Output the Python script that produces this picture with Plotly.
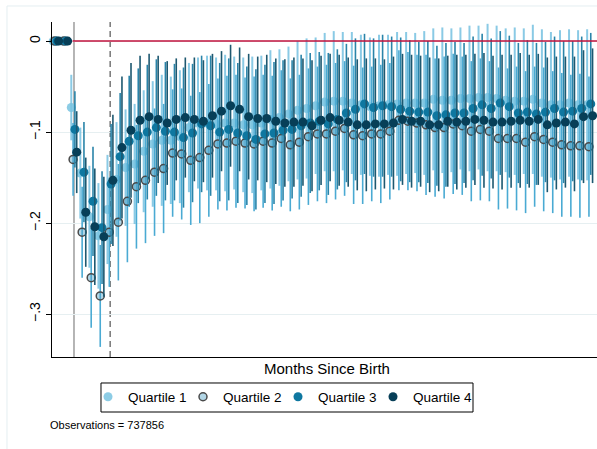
import plotly.graph_objects as go

# ---------------- data ----------------
months = list(range(-2, 58))

q1 = [0, 0,
      -0.073, -0.145, -0.193, -0.214, -0.185, -0.152, -0.139, -0.135, -0.121, -0.113,
      -0.109, -0.109, -0.105, -0.095, -0.090, -0.090, -0.091, -0.090, -0.090, -0.092,
      -0.092, -0.090, -0.086, -0.084, -0.080, -0.076, -0.074, -0.071, -0.067, -0.066,
      -0.066, -0.068, -0.070, -0.072, -0.071, -0.070, -0.069, -0.068, -0.068, -0.068,
      -0.064, -0.065, -0.065, -0.063, -0.063, -0.062, -0.062, -0.063, -0.065, -0.066,
      -0.066, -0.064, -0.068, -0.070, -0.070, -0.068, -0.070, -0.070]

q2 = [0, 0,
      -0.130, -0.210, -0.260, -0.280, -0.210, -0.199, -0.176, -0.160, -0.153, -0.144,
      -0.140, -0.123, -0.124, -0.131, -0.128, -0.120, -0.113, -0.112, -0.110, -0.112,
      -0.113, -0.110, -0.112, -0.107, -0.114, -0.111, -0.105, -0.102, -0.102, -0.099,
      -0.096, -0.103, -0.104, -0.102, -0.102, -0.099, -0.087, -0.088, -0.090, -0.092,
      -0.095, -0.095, -0.091, -0.093, -0.099, -0.097, -0.099, -0.107, -0.107, -0.107,
      -0.111, -0.105, -0.108, -0.111, -0.114, -0.115, -0.115, -0.116]

q3 = [0, 0,
      -0.097, -0.144, -0.176, -0.205, -0.157, -0.127, -0.110, -0.104, -0.100, -0.095,
      -0.099, -0.100, -0.106, -0.101, -0.091, -0.093, -0.100, -0.097, -0.101, -0.104,
      -0.108, -0.102, -0.101, -0.098, -0.097, -0.093, -0.090, -0.088, -0.091, -0.086,
      -0.079, -0.075, -0.069, -0.073, -0.071, -0.072, -0.075, -0.077, -0.078, -0.078,
      -0.082, -0.081, -0.079, -0.079, -0.074, -0.070, -0.074, -0.068, -0.072, -0.079,
      -0.078, -0.080, -0.078, -0.074, -0.078, -0.077, -0.074, -0.069]

q4 = [0, 0,
      -0.122, -0.188, -0.204, -0.215, -0.153, -0.117, -0.098, -0.087, -0.083, -0.086,
      -0.090, -0.086, -0.084, -0.086, -0.088, -0.082, -0.077, -0.071, -0.075, -0.083,
      -0.085, -0.085, -0.088, -0.090, -0.089, -0.089, -0.093, -0.087, -0.084, -0.087,
      -0.089, -0.092, -0.092, -0.091, -0.091, -0.090, -0.086, -0.088, -0.088, -0.092,
      -0.092, -0.088, -0.089, -0.088, -0.086, -0.087, -0.089, -0.089, -0.088, -0.087,
      -0.088, -0.086, -0.092, -0.090, -0.089, -0.091, -0.083, -0.082]

# half-widths of the 95% confidence intervals
ci1 = [0, 0,
       0.036, 0.050, 0.056, 0.058, 0.060, 0.063, 0.064, 0.066, 0.067, 0.069,
       0.072, 0.070, 0.073, 0.071, 0.072, 0.074, 0.073, 0.075, 0.073, 0.074,
       0.075, 0.074, 0.076, 0.075, 0.074, 0.076, 0.077, 0.075, 0.076, 0.077,
       0.076, 0.078, 0.077, 0.076, 0.078, 0.077, 0.079, 0.078, 0.077, 0.079,
       0.078, 0.080, 0.079, 0.078, 0.080, 0.079, 0.081, 0.080, 0.079, 0.081,
       0.080, 0.082, 0.081, 0.080, 0.082, 0.081, 0.082, 0.083]

ci2 = [0, 0,
       0.040, 0.050, 0.055, 0.056, 0.060, 0.064, 0.067, 0.068, 0.069, 0.070,
       0.071, 0.070, 0.072, 0.071, 0.072, 0.073, 0.072, 0.074, 0.073, 0.072,
       0.074, 0.073, 0.074, 0.075, 0.073, 0.074, 0.075, 0.074, 0.076, 0.075,
       0.074, 0.076, 0.075, 0.074, 0.076, 0.075, 0.077, 0.076, 0.075, 0.077,
       0.076, 0.078, 0.077, 0.076, 0.077, 0.078, 0.077, 0.078, 0.077, 0.079,
       0.078, 0.077, 0.079, 0.078, 0.079, 0.078, 0.079, 0.077]

ci3 = [0, 0,
       0.042, 0.055, 0.060, 0.062, 0.066, 0.070, 0.072, 0.074, 0.074, 0.075,
       0.076, 0.075, 0.077, 0.076, 0.075, 0.077, 0.076, 0.078, 0.077, 0.076,
       0.077, 0.076, 0.078, 0.077, 0.076, 0.078, 0.077, 0.076, 0.078, 0.077,
       0.076, 0.078, 0.077, 0.076, 0.078, 0.077, 0.079, 0.078, 0.077, 0.078,
       0.077, 0.079, 0.078, 0.077, 0.079, 0.078, 0.077, 0.079, 0.078, 0.077,
       0.079, 0.078, 0.077, 0.079, 0.078, 0.077, 0.079, 0.078]

ci4 = [0, 0,
       0.045, 0.060, 0.064, 0.066, 0.072, 0.078, 0.074, 0.071, 0.069, 0.070,
       0.068, 0.067, 0.066, 0.068, 0.067, 0.068, 0.066, 0.067, 0.068, 0.069,
       0.068, 0.070, 0.069, 0.070, 0.071, 0.070, 0.072, 0.071, 0.070, 0.072,
       0.071, 0.072, 0.073, 0.072, 0.071, 0.073, 0.072, 0.073, 0.072, 0.074,
       0.073, 0.072, 0.074, 0.073, 0.072, 0.074, 0.073, 0.074, 0.073, 0.074,
       0.073, 0.072, 0.074, 0.073, 0.072, 0.074, 0.073, 0.074]

names = ["Quartile 1", "Quartile 2", "Quartile 3", "Quartile 4"]
y_ticks = [0, -0.1, -0.2, -0.3]
y_tick_labels = ["0", "\u2212.1", "\u2212.2", "\u2212.3"]
birth_month = 0
dashed_month = 4
n_obs = 737856

# ---------------- styles ----------------
FONT = "Liberation Sans, Arial, Helvetica, sans-serif"
offsets = [-0.3, -0.1, 0.1, 0.3]
bar_colors = ["rgba(125,196,226,0.9)", "#4aaad3", "#2a84a9", "#1d5870"]
bar_widths = [2, 1.6, 1.6, 1.6]
marker_styles = [
    dict(color="rgba(120,195,225,0.85)", size=9, line=dict(width=0)),
    dict(color="rgba(85,165,200,0.45)", size=8, line=dict(color="#4a4a4a", width=1.5)),
    dict(color="#0e77a0", size=9, line=dict(width=0)),
    dict(color="#073f58", size=9, line=dict(width=0)),
]

series = [q1, q2, q3, q4]
cis = [ci1, ci2, ci3, ci4]

fig = go.Figure()
for k in range(4):
    xs = [m + offsets[k] for m in months]
    bx, by = [], []
    for x, v, h in zip(xs, series[k], cis[k]):
        if h > 0:
            bx += [x, x, None]
            by += [v - h, v + h, None]
    fig.add_trace(go.Scatter(x=bx, y=by, mode="lines",
                             line=dict(color=bar_colors[k], width=bar_widths[k]),
                             showlegend=False, hoverinfo="skip"))
    fig.add_trace(go.Scatter(x=xs, y=series[k], mode="markers", name=names[k],
                             marker=marker_styles[k], cliponaxis=False))

# empty spacer entry so the last legend label is not clipped
fig.add_trace(go.Scatter(x=[None], y=[None], mode="markers", name=" ",
                         marker=dict(color="rgba(0,0,0,0)", size=1), hoverinfo="skip"))

x_range = [-2.43, 57.79]
y_range = [-0.3471, 0.021]

shapes = [
    dict(type="line", xref="x", yref="paper", x0=birth_month, x1=birth_month, y0=0, y1=1,
         line=dict(color="#a3a3a3", width=1.6), layer="below"),
    dict(type="line", xref="x", yref="paper", x0=dashed_month, x1=dashed_month, y0=0, y1=1,
         line=dict(color="#7f7f7f", width=1.6, dash="6px,4px"), layer="below"),
    dict(type="line", xref="x", yref="y", x0=birth_month - 0.15, x1=x_range[1], y0=0, y1=0,
         line=dict(color="#c0123c", width=1.5), layer="above"),
    # graph-region frame (light)
    dict(type="line", xref="paper", yref="paper", x0=-0.0826, x1=-0.0826, y0=-0.3, y1=1.0478,
         line=dict(color="#e4eef1", width=1)),
    dict(type="line", xref="paper", yref="paper", x0=-0.0826, x1=1.05, y0=1.0478, y1=1.0478,
         line=dict(color="#e4eef1", width=1)),
    # legend frame
    dict(type="rect", xref="paper", yref="paper", x0=0.0899, x1=0.7725, y0=-0.1642, y1=-0.0776,
         line=dict(color="black", width=1), fillcolor="rgba(0,0,0,0)", layer="above"),
]

fig.update_layout(
    width=597, height=449,
    margin=dict(l=52, r=0, t=22, b=92, autoexpand=False),
    paper_bgcolor="white", plot_bgcolor="white",
    font=dict(family=FONT, color="black"),
    shapes=shapes,
    showlegend=True,
    legend=dict(orientation="h", x=(88 - 52) / 545, y=-0.0731, xanchor="left", yanchor="top",
                borderwidth=0, bgcolor="rgba(0,0,0,0)",
                font=dict(size=13.5, family=FONT), itemsizing="trace",
                entrywidth=50, entrywidthmode="pixels"),
    annotations=[
        dict(text="Months Since Birth", xref="paper", yref="paper", x=0.5046, y=0,
             xanchor="center", yanchor="top", yshift=-1, showarrow=False,
             font=dict(size=15, family=FONT)),
        dict(text=f"Observations = {n_obs}", xref="paper", yref="paper", x=-0.0073, y=-0.203,
             xanchor="left", yanchor="middle", showarrow=False,
             font=dict(size=11, family=FONT)),
    ],
)

fig.update_xaxes(range=x_range, showgrid=False, zeroline=False, showticklabels=False,
                 ticks="", showline=True, linecolor="black", linewidth=1, automargin=False)
fig.update_yaxes(range=y_range, tickvals=y_ticks, ticktext=y_tick_labels, tickangle=-90,
                 ticks="outside", ticklen=5, tickcolor="black", tickwidth=1,
                 showline=True, linecolor="black", linewidth=1, automargin=False,
                 showgrid=True, gridcolor="#e6eff1", gridwidth=1, zeroline=False,
                 tickfont=dict(size=14, family=FONT))

fig.write_html("out.html", config={"displayModeBar": False},
               post_script="document.body.style.margin='0';document.body.style.padding='0';")
